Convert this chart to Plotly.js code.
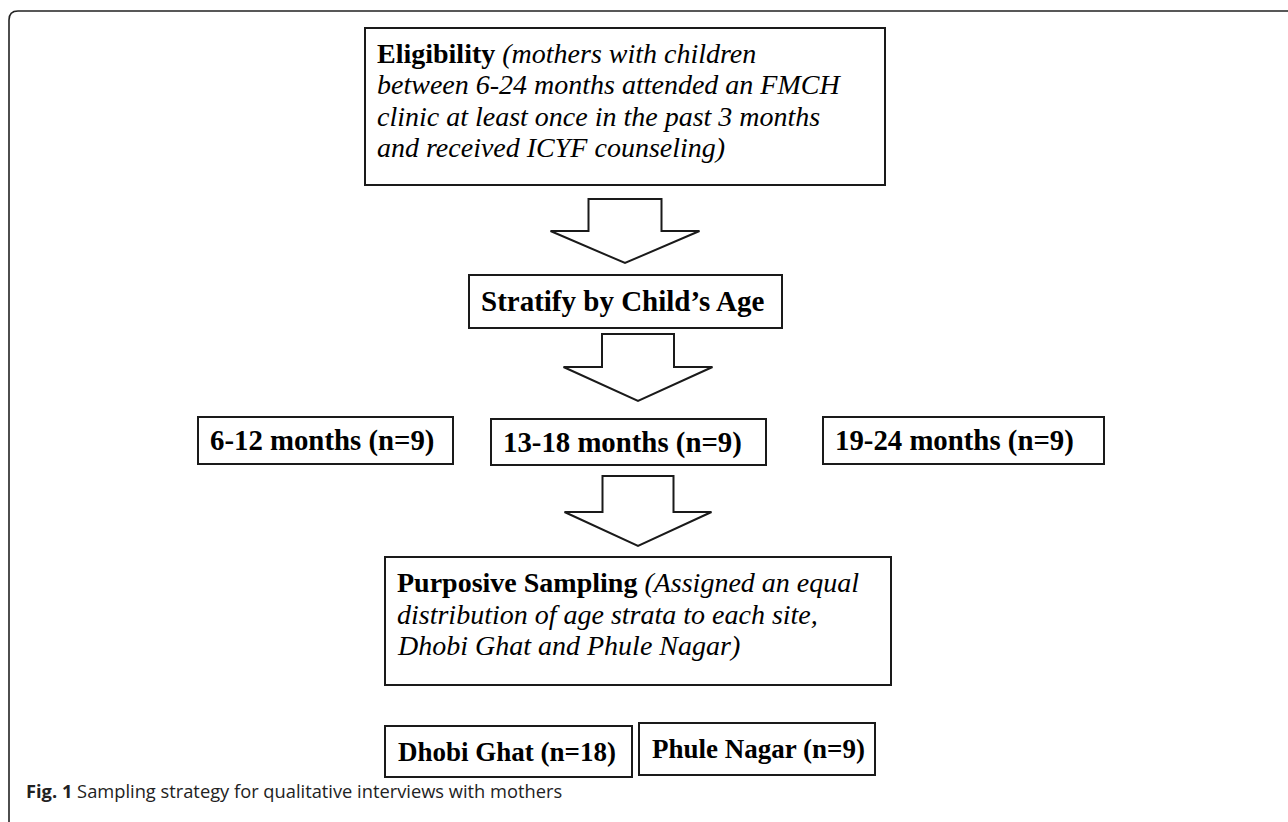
<!DOCTYPE html>
<html>
<head>
<meta charset="utf-8">
<script src="https://cdn.plot.ly/plotly-3.0.1.min.js"></script>
<style>html,body{margin:0;padding:0;background:#fff;}#chart{width:1288px;height:822px;}</style>
</head>
<body>
<div id="chart"></div>
<script>
// ---- Content (texts of the flowchart) ----
const eligibilityLines = [
  "<b>Eligibility</b> <i>(mothers with children</i>",
  "<i>between 6-24 months attended an FMCH</i>",
  "<i>clinic at least once in the past 3 months</i>",
  "<i>and received ICYF counseling)</i>"
];
const stratifyLabel = "<b>Stratify by Child’s Age</b>";
const ageStrata = ["6-12 months (n=9)", "13-18 months (n=9)", "19-24 months (n=9)"];
const samplingLines = [
  "<b>Purposive Sampling</b> <i>(Assigned an equal</i>",
  "<i>distribution of age strata to each site,</i>",
  "<i>Dhobi Ghat and Phule Nagar)</i>"
];
const sites = ["Dhobi Ghat (n=18)", "Phule Nagar (n=9)"];
const caption = "<b>Fig. 1</b> Sampling strategy for qualitative interviews with mothers";

// ---- Layout geometry (pixel coordinates via axes) ----
const W = 1288, H = 822;
const serif = "Liberation Serif, Times New Roman, serif";
const ink = "#1a1a1a";
const fs = 28;

const shapes = [];
const annotations = [];

function box(x0, y0, x1, y1) {
  shapes.push({type: "rect", xref: "x", yref: "y", x0, y0, x1, y1,
    line: {color: ink, width: 2}, fillcolor: "rgba(0,0,0,0)"});
}
function arrow(cx, top, shoulder, tip, shaftHalf, headHalf) {
  const p = `M ${cx - shaftHalf} ${top} L ${cx + shaftHalf} ${top} L ${cx + shaftHalf} ${shoulder} ` +
            `L ${cx + headHalf} ${shoulder} L ${cx} ${tip} L ${cx - headHalf} ${shoulder} ` +
            `L ${cx - shaftHalf} ${shoulder} Z`;
  shapes.push({type: "path", xref: "x", yref: "y", path: p,
    line: {color: ink, width: 2}, fillcolor: "#ffffff"});
}
function text(t, x, y, opts) {
  annotations.push(Object.assign({
    text: t, x, y, xref: "x", yref: "y", showarrow: false,
    xanchor: "left", yanchor: "middle", align: "left",
    font: {family: serif, size: fs, color: "#000"}
  }, opts || {}));
}

// outer frame (top + left with rounded corner)
shapes.push({type: "path", xref: "x", yref: "y",
  path: "M 9 830 L 9 20 Q 9 11 18 11 L 1300 11",
  line: {color: "#222", width: 1.6}});

// Eligibility box
box(365, 28, 885, 185);
const eligY = [53, 84, 116, 147];
eligibilityLines.forEach((t, i) => text(t, 375, eligY[i]));

arrow(625, 199, 231, 263, 36.5, 74.5);

// Stratify
box(469, 275, 782, 328);
text(stratifyLabel, 622, 301, {xanchor: "center", font: {family: serif, size: 29, color: "#000"}});

arrow(638, 334, 367, 401, 36, 74.5);

// Age strata boxes
const ageBoxes = [[198, 417, 453, 464], [491, 419, 766, 465], [823, 417, 1104, 464]];
ageStrata.forEach((t, i) => {
  const b = ageBoxes[i];
  box(b[0], b[1], b[2], b[3]);
  text("<b>" + t + "</b>", b[0] + 10, (b[1] + b[3]) / 2, {font: {family: serif, size: 28.8, color: "#000"}});
});

arrow(638, 476, 512, 546, 35.5, 73.5);

// Purposive sampling box
box(385, 557, 891, 685);
const sampY = [582, 614, 645];
samplingLines.forEach((t, i) => text(t, 395, sampY[i]));

// Site boxes
const siteBoxes = [[385, 726, 632, 777], [639, 723, 875, 775]];
sites.forEach((t, i) => {
  const b = siteBoxes[i];
  box(b[0], b[1], b[2], b[3]);
  text("<b>" + t + "</b>", b[0] + 11, (b[1] + b[3]) / 2, {font: {family: serif, size: 27, color: "#000"}});
});

// caption
text(caption, 24, 790, {font: {family: "Open Sans, Noto Sans, sans-serif", size: 18.3, color: "#222"}});

const layout = {
  width: W, height: H,
  margin: {l: 0, r: 0, t: 0, b: 0, pad: 0},
  paper_bgcolor: "#fff", plot_bgcolor: "#fff",
  xaxis: {range: [0, W], visible: false, fixedrange: true},
  yaxis: {range: [H, 0], visible: false, fixedrange: true},
  showlegend: false,
  shapes, annotations
};
Plotly.newPlot("chart", [], layout, {staticPlot: true, displayModeBar: false});
</script>
</body>
</html>
